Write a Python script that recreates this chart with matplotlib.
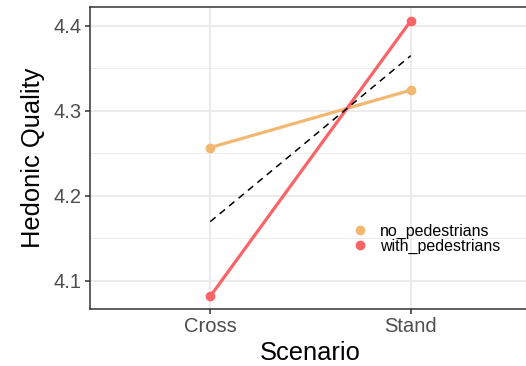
import numpy as np
import matplotlib.pyplot as plt
import matplotlib as mpl

mpl.rcParams['font.family'] = ['Liberation Sans', 'DejaVu Sans']

scenarios = ['Cross', 'Stand']
groups = ['no_pedestrians', 'with_pedestrians']
no_ped = [4.2568, 4.3244]
with_ped = [4.0816, 4.4060]
overall = [4.1695, 4.3650]
colors = ['#F2B872', '#FA6467']

x = np.arange(1, len(scenarios) + 1)

fig = plt.figure(figsize=(5.26, 3.66), dpi=100)
ax = fig.add_axes([90 / 526, (366 - 309) / 366, (531 - 90) / 526, (309 - 7.3) / 366])

for vals, c, lab in zip([no_ped, with_ped], colors, groups):
    ax.plot(x, vals, color=c, lw=2.3, zorder=3)
    ax.plot(x, vals, 'o', color=c, ms=6, zorder=4, label=lab)
ax.plot(x, overall, color='black', lw=1.1, ls=(0, (4.5, 3.5)), zorder=3)

ax.set_xlim(0.4, 2.6)
ax.set_ylim(4.0666, 4.422)
ax.set_xticks(x)
ax.set_xticklabels(scenarios)
ax.set_yticks([4.1, 4.2, 4.3, 4.4])
ax.set_yticks([4.15, 4.25, 4.35], minor=True)
ax.set_xticks([], minor=True)

ax.grid(True, which='major', color='#EBEBEB', lw=1.4, zorder=0)
ax.grid(True, which='minor', axis='y', color='#EBEBEB', lw=0.7, zorder=0)
ax.set_axisbelow(True)

for s in ax.spines.values():
    s.set_color('#333333')
    s.set_linewidth(1.1)

ax.tick_params(which='major', length=3.5, width=1.1, color='#333333',
               labelsize=14.5, labelcolor='#4D4D4D', pad=2.5)
ax.tick_params(which='minor', length=0)

ax.set_xlabel('Scenario', fontsize=18.4, labelpad=3)
ax.set_ylabel('Hedonic Quality', fontsize=18.4, labelpad=6)

ax.legend(loc='center left', bbox_to_anchor=(0.583, 0.232), frameon=False,
          fontsize=11.5, handlelength=0.8, handletextpad=0.85, labelspacing=0.0,
          borderaxespad=0)

plt.savefig('out.png', dpi=100)
